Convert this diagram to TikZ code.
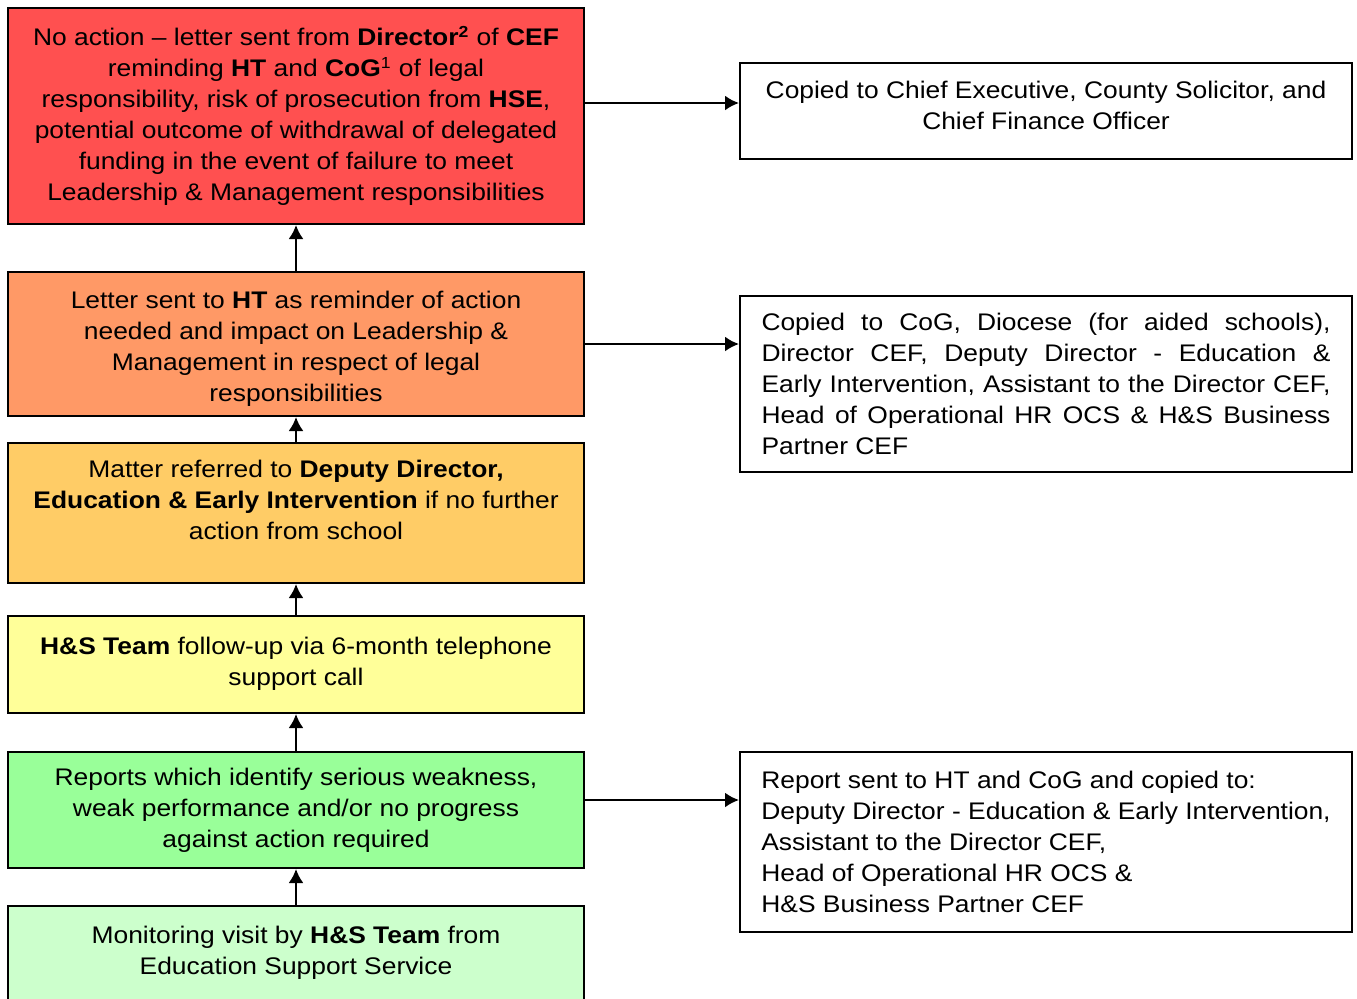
\documentclass[tikz,border=0pt]{standalone}
\usepackage{fontspec}
\setmainfont{Liberation Sans}[FakeStretch=1.1]
\usepackage{tikz}
\usetikzlibrary{calc,arrows,arrows.meta}

\definecolor{lvlred}{RGB}{255,80,80}
\definecolor{lvlorange}{RGB}{255,153,102}
\definecolor{lvlamber}{RGB}{255,204,102}
\definecolor{lvlyellow}{RGB}{255,255,153}
\definecolor{lvlgreen}{RGB}{153,255,153}
\definecolor{lvlpale}{RGB}{204,255,204}

\tikzset{
  stage/.style={draw=black,line width=1pt,minimum width=288pt,inner sep=0pt,
    align=center,font=\fontsize{12}{15.5}\selectfont},
  copybox/.style={draw=black,line width=1pt,fill=white,minimum width=306pt,inner sep=0pt,
    font=\fontsize{12}{15.5}\selectfont},
  arr/.style={-{Latex[length=7pt,width=7.5pt]},line width=1.2pt}
}

\begin{document}
\begin{tikzpicture}[x=0.5pt,y=-0.5pt]
  \useasboundingbox (0,0) rectangle (1357,998);
  \clip (0,0) rectangle (1357,998);
  % escalation ladder
  \node[stage,fill=lvlred,minimum height=108pt](noaction)at(296,116){No action -- letter sent from \textbf{Director\textsuperscript{2}} of \textbf{CEF}\\
    reminding \textbf{HT} and \textbf{CoG}\textsuperscript{1} of legal\\
    responsibility, risk of prosecution from \textbf{HSE},\\
    potential outcome of withdrawal of delegated\\
    funding in the event of failure to meet\\
    Leadership \& Management responsibilities};
  \node[stage,fill=lvlorange,minimum height=72pt](letter)at(296,344){\mbox{}\\[-2.5pt]Letter sent to \textbf{HT} as reminder of action\\
    needed and impact on Leadership \&\\
    Management in respect of legal\\
    responsibilities};
  \node[stage,fill=lvlamber,minimum height=70pt](referred)at(296,513){Matter referred to \textbf{Deputy Director,}\\
    \textbf{Education \& Early Intervention} if no further\\
    action from school\\[-2pt]\mbox{}};
  \node[stage,fill=lvlyellow,minimum height=48.5pt](followup)at(296,664.5){\textbf{H\&S Team} follow-up via 6-month telephone\\
    support call\\[-12.5pt]\mbox{}};
  \node[stage,fill=lvlgreen,minimum height=58pt](reports)at(296,810){Reports which identify serious weakness,\\
    weak performance and/or no progress\\
    against action required};
  \node[stage,fill=lvlpale,minimum height=60pt](visit)at(296,966){Monitoring visit by \textbf{H\&S Team} from\\
    Education Support Service\\[0.5pt]\mbox{}};
  % who gets copied
  \node[copybox,minimum height=48pt,align=center](copyA)at(1046,111){Copied to Chief Executive, County Solicitor, and\\
    Chief Finance Officer\\[-9.5pt]\mbox{}};
  \node[copybox,minimum height=88pt,align=left](copyB)at(1046,384){\makebox[284.5pt][s]{Copied to CoG, Diocese (for aided schools),}\\
    \makebox[284.5pt][s]{Director CEF, Deputy Director - Education \&}\\
    \makebox[284.5pt][s]{Early Intervention, Assistant to the Director CEF,}\\
    \makebox[284.5pt][s]{Head of Operational HR OCS \& H\&S Business}\\
    \makebox[284.5pt][l]{Partner CEF}};
  \node[copybox,minimum height=90pt,align=left](copyC)at(1046,842){Report sent to HT and CoG and copied to:\\
    Deputy Director - Education \& Early Intervention,\\
    Assistant to the Director CEF,\\
    Head of Operational HR OCS \&\\
    H\&S Business Partner CEF};
  % upward arrows
  \draw[arr](visit)--(reports);
  \draw[arr](reports)--(followup);
  \draw[arr](followup)--(referred);
  \draw[arr](referred)--(letter);
  \draw[arr](letter)--(noaction);
  % arrows to the right
  \draw[arr]([yshift=6.5pt]noaction.east) coordinate (pA) -- (pA -| copyA.west);
  \draw[arr](letter.east) -- (letter.east -| copyB.west);
  \draw[arr]([yshift=5pt]reports.east) coordinate (pC) -- (pC -| copyC.west);
\end{tikzpicture}
\end{document}
